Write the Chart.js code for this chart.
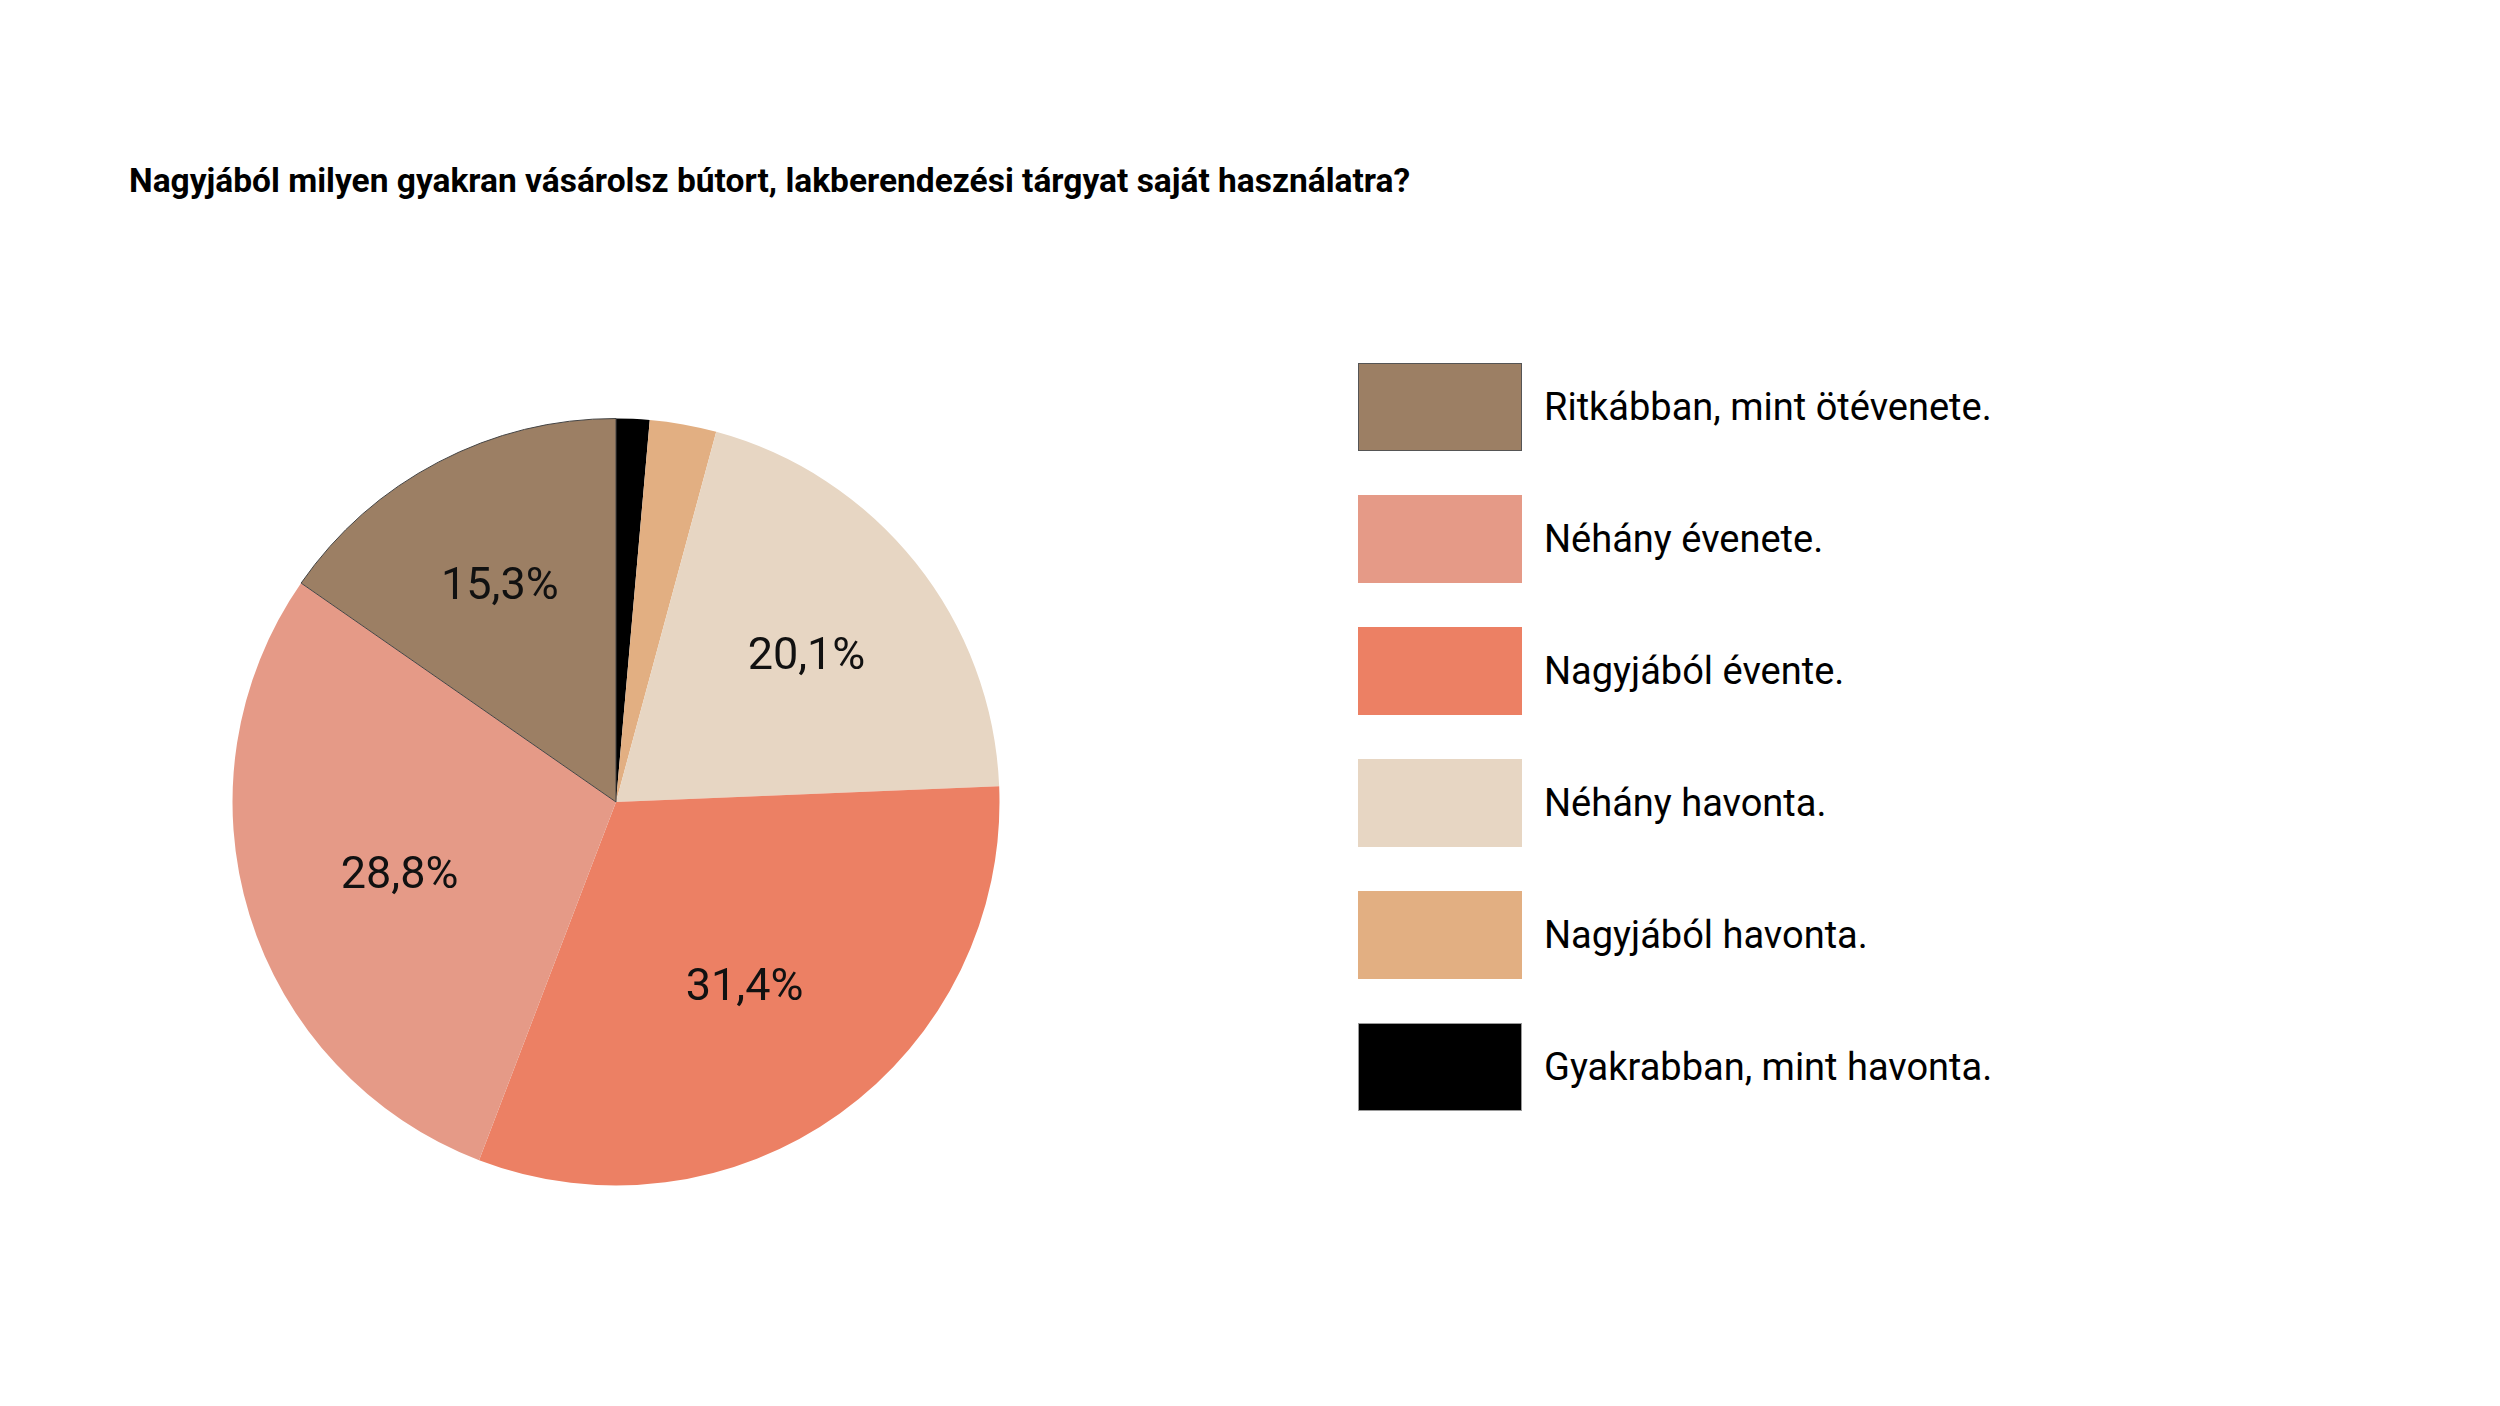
<!DOCTYPE html>
<html lang="hu">
<head>
<meta charset="utf-8">
<title>Bútorvásárlás gyakorisága</title>
<script src="https://cdn.jsdelivr.net/npm/chart.js@4/dist/chart.umd.min.js"></script>
<style>
    body { margin: 0; width: 2500px; height: 1406px; background: #fff; position: relative; font-family: Roboto, "Noto Sans", sans-serif; }
    #title { position: absolute; left: 129px; top: 164px; font-size: 33.5px; line-height: 1; font-weight: 700; color: #000; margin: 0; }
    #pieWrap { position: absolute; left: 232px; top: 418px; width: 768px; height: 768px; }
    #legend { position: absolute; left: 1358px; top: 363px; }
    .item { display: flex; align-items: center; height: 88px; margin-bottom: 44px; }
    .box { width: 164px; height: 88px; box-sizing: border-box; }
    .lbl { margin-left: 22px; font-size: 38px; color: #000; }
</style>
</head>
<body>
<h1 id="title">Nagyjából milyen gyakran vásárolsz bútort, lakberendezési tárgyat saját használatra?</h1>
<div id="pieWrap"><canvas id="pie"></canvas></div>
<div id="legend"></div>

<script>
// szeletek az óramutató járása szerint, 12 órától
var labels = ["Gyakrabban, mint havonta.", "Nagyjából havonta.", "Néhány havonta.", "Nagyjából évente.", "Néhány évenete.", "Ritkábban, mint ötévenete."];
var values = [1.4, 2.8, 20.1, 31.4, 28.8, 15.3];
var colors = ["#000000", "#E2AF82", "#E7D6C3", "#EC8064", "#E59A87", "#9C7F64"];
var boxBorders = ["#9a9a9a", null, null, null, null, "#555555"];

// százalék feliratok a szeletek súlypontjában
var pctLabels = {
    id: "pctLabels",
    afterDatasetsDraw: function (chart) {
        var ctx = chart.ctx;
        var meta = chart.getDatasetMeta(0);
        ctx.save();
        ctx.font = "45px Roboto";
        ctx.fillStyle = "#111";
        ctx.textAlign = "center";
        ctx.textBaseline = "middle";
        meta.data.forEach(function (arc, i) {
            var v = values[i];
            if (v < 10) return;
            var span = arc.endAngle - arc.startAngle;
            var a = arc.startAngle + span / 2;
            var r = 4 * arc.outerRadius * Math.sin(span / 2) / (3 * span) * 1.02;
            ctx.fillText(v.toFixed(1).replace(".", ",") + "%", arc.x + Math.cos(a) * r, arc.y + Math.sin(a) * r + 8);
        });
        ctx.restore();
    }
};

var chart = new Chart(document.getElementById("pie"), {
    type: "pie",
    data: {
        labels: labels,
        datasets: [{
            data: values,
            backgroundColor: colors,
            borderColor: ["#000", "#000", "#000", "#000", "#000", "#444"],
            borderWidth: [0, 0, 0, 0, 0, 1]
        }]
    },
    options: {
        responsive: true,
        maintainAspectRatio: false,
        animation: false,
        plugins: {
            legend: { display: false },
            tooltip: { enabled: false }
        }
    },
    plugins: [pctLabels]
});

// jelmagyarázat fordított sorrendben
var items = chart.options.plugins.legend.labels.generateLabels(chart);
var legend = document.getElementById("legend");
for (var i = items.length - 1; i >= 0; i--) {
    var it = items[i];
    var row = document.createElement("div");
    row.className = "item";
    var box = document.createElement("div");
    box.className = "box";
    box.style.background = it.fillStyle;
    if (boxBorders[it.index]) box.style.border = "1.5px solid " + boxBorders[it.index];
    var txt = document.createElement("span");
    txt.className = "lbl";
    txt.textContent = it.text;
    row.appendChild(box);
    row.appendChild(txt);
    legend.appendChild(row);
}
</script>
</body>
</html>
